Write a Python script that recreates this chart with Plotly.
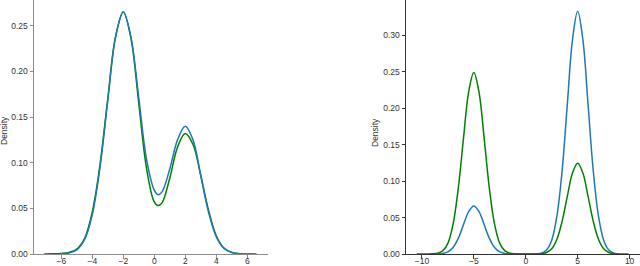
import plotly.graph_objects as go

# ---- Left panel data ----
left_blue_x = [-6.0, -5.5, -5.0, -4.5, -4.0, -3.5, -3.0, -2.5, -2.0, -1.5, -1.0, -0.5, 0.0, 0.25, 0.5, 1.0, 1.5, 2.0, 2.5, 3.0, 3.5, 4.0, 4.5, 5.0, 5.5, 6.0, 6.4]
left_blue_y = [0.0004, 0.0012, 0.0045, 0.0156, 0.043, 0.095, 0.168, 0.237, 0.265, 0.237, 0.171, 0.104, 0.070, 0.065, 0.068, 0.093, 0.125, 0.140, 0.125, 0.086, 0.046, 0.019, 0.006, 0.0016, 0.0003, 0.0, 0.0]
left_green_x = [-7.1, -6.5, -6.0, -5.5, -5.0, -4.5, -4.0, -3.5, -3.0, -2.5, -2.0, -1.5, -1.0, -0.5, 0.0, 0.25, 0.5, 1.0, 1.5, 2.0, 2.5, 3.0, 3.5, 4.0, 4.5, 5.0, 5.5, 6.0, 6.6]
left_green_y = [0.0, 0.0002, 0.0006, 0.0018, 0.0055, 0.017, 0.046, 0.098, 0.170, 0.238, 0.265, 0.236, 0.165, 0.094, 0.057, 0.053, 0.056, 0.083, 0.117, 0.132, 0.120, 0.086, 0.048, 0.020, 0.0065, 0.0018, 0.0004, 0.0001, 0.0]

# ---- Right panel data ----
right_blue_x = [-9.0, -8.5, -8.0, -7.5, -7.0, -6.5, -6.0, -5.5, -5.0, -4.5, -4.0, -3.5, -3.0, -2.5, -2.0, -1.5, -1.0, 0.0, 1.0, 1.5, 2.0, 2.5, 3.0, 3.5, 4.0, 4.5, 5.0, 5.5, 6.0, 6.5, 7.0, 7.5, 8.0, 8.5, 9.0]
right_blue_y = [0.0, 0.0001, 0.0007, 0.0029, 0.0089, 0.0214, 0.040, 0.0582, 0.066, 0.0582, 0.040, 0.0214, 0.0089, 0.0029, 0.0007, 0.0001, 0.0, 0.0, 0.0002, 0.0012, 0.0055, 0.019, 0.052, 0.114, 0.205, 0.294, 0.333, 0.294, 0.205, 0.114, 0.052, 0.019, 0.0055, 0.0012, 0.0002]
right_green_x = [-10.5, -10.0, -9.5, -9.0, -8.5, -8.0, -7.5, -7.0, -6.5, -6.0, -5.5, -5.0, -4.5, -4.0, -3.5, -3.0, -2.5, -2.0, -1.5, -1.0, -0.5, 0.0, 0.5, 1.0, 1.5, 2.0, 2.5, 3.0, 3.5, 4.0, 4.5, 5.0, 5.5, 6.0, 6.5, 7.0, 7.5, 8.0, 8.5, 9.0, 9.5, 9.9]
right_green_y = [0.0, 0.0, 0.0, 0.0002, 0.001, 0.0042, 0.0146, 0.0406, 0.0896, 0.158, 0.222, 0.249, 0.222, 0.158, 0.0896, 0.0406, 0.0146, 0.0042, 0.001, 0.0002, 0.0, 0.0, 0.0, 0.0001, 0.0005, 0.0021, 0.0073, 0.0203, 0.0448, 0.079, 0.111, 0.1245, 0.111, 0.079, 0.0448, 0.0203, 0.0073, 0.0021, 0.0005, 0.0001, 0.0, 0.0]

left_xticks = [-6, -4, -2, 0, 2, 4, 6]
left_yticks = [0.00, 0.05, 0.10, 0.15, 0.20, 0.25]
right_xticks = [-10, -5, 0, 5, 10]
right_yticks = [0.00, 0.05, 0.10, 0.15, 0.20, 0.25, 0.30]

BLUE = "#1f77b4"
GREEN = "#008000"
FONT = dict(family="Liberation Sans, Arial, sans-serif", size=8.5, color="#333333")

fig = go.Figure()
fig.add_trace(go.Scatter(x=left_green_x, y=left_green_y, mode="lines",
                         line=dict(color=GREEN, width=1.5, shape="spline", smoothing=1),
                         xaxis="x", yaxis="y", hoverinfo="skip"))
fig.add_trace(go.Scatter(x=left_blue_x, y=left_blue_y, mode="lines",
                         line=dict(color=BLUE, width=1.5, shape="spline", smoothing=1),
                         xaxis="x", yaxis="y", hoverinfo="skip"))
fig.add_trace(go.Scatter(x=right_blue_x, y=right_blue_y, mode="lines",
                         line=dict(color=BLUE, width=1.5, shape="spline", smoothing=1),
                         xaxis="x2", yaxis="y2", hoverinfo="skip"))
fig.add_trace(go.Scatter(x=right_green_x, y=right_green_y, mode="lines",
                         line=dict(color=GREEN, width=1.5, shape="spline", smoothing=1),
                         xaxis="x2", yaxis="y2", hoverinfo="skip"))

W, H = 640, 266
axis_common = dict(showgrid=False, zeroline=False, ticks="outside", ticklen=3.5, tickwidth=1,
                   showline=True, linewidth=1, tickfont=FONT, automargin=False)
xaxis_extra = dict(ticklabelstandoff=-5)

left_col = "#8c8c8c"
right_col = "#333333"

fig.update_layout(
    width=W, height=H,
    margin=dict(l=0, r=0, t=0, b=12),
    paper_bgcolor="white", plot_bgcolor="white",
    showlegend=False,
    xaxis=dict(domain=[34 / W, 267.7 / W], range=[-7.76, 7.32], tickvals=left_xticks,
               anchor="y", linecolor=left_col, tickcolor=left_col, **axis_common, **xaxis_extra),
    yaxis=dict(domain=[0, 1], range=[0, 0.2782], tickvals=left_yticks, tickformat=".2f",
               anchor="x", linecolor=left_col, tickcolor=left_col, **axis_common),
    xaxis2=dict(domain=[406 / W, 1.0], range=[-11.53, 11.0], tickvals=right_xticks,
                anchor="y2", linecolor=right_col, tickcolor=right_col, **axis_common, **xaxis_extra),
    yaxis2=dict(domain=[0, 1], range=[0, 0.3485], tickvals=right_yticks, tickformat=".2f",
                anchor="x2", linecolor=right_col, tickcolor=right_col, **axis_common),
    annotations=[
        dict(text="Density", x=4 / W, y=1 - 131 / 254, xref="paper", yref="paper",
             showarrow=False, textangle=-90, font=FONT, xanchor="center", yanchor="middle"),
        dict(text="Density", x=375 / W, y=1 - 133 / 254, xref="paper", yref="paper",
             showarrow=False, textangle=-90, font=FONT, xanchor="center", yanchor="middle"),
    ],
)

fig.write_html(
    "out.html",
    config={"displayModeBar": False},
    post_script="document.body.style.margin='0';document.body.style.overflow='hidden';",
)
